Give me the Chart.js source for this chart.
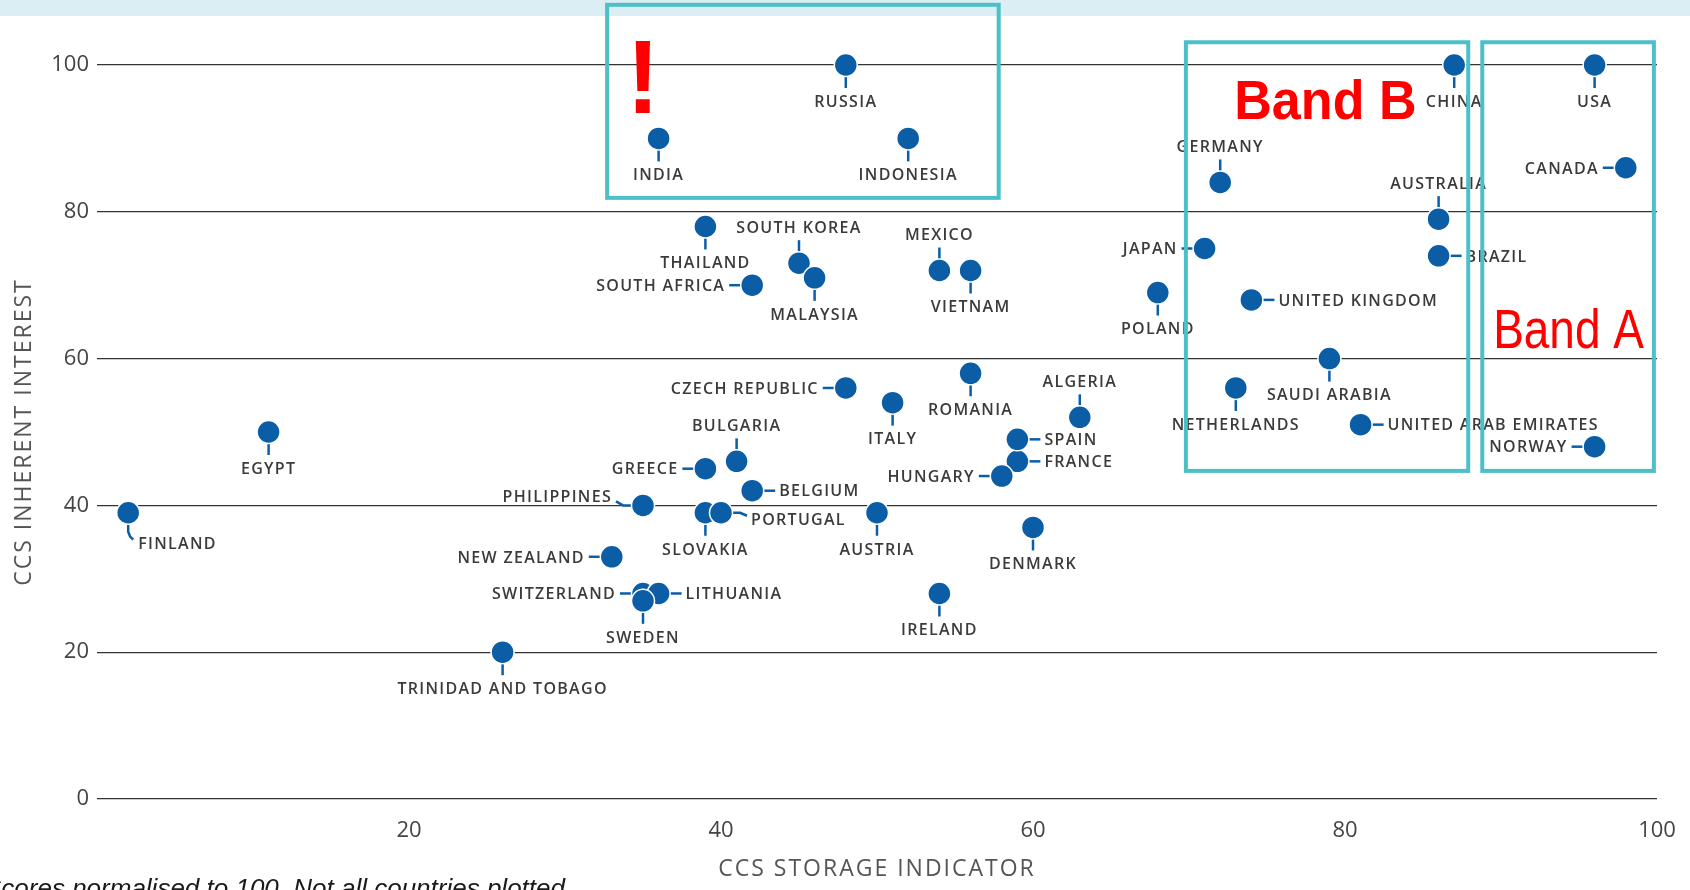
<!DOCTYPE html>
<html>
<head>
<meta charset="utf-8">
<title>CCS storage indicator vs inherent interest</title>
<script src="https://cdn.jsdelivr.net/npm/chart.js@4.4.1/dist/chart.umd.min.js"></script>
<style>
  html, body { margin: 0; padding: 0; background: #fff; }
  canvas { display: block; }
</style>
</head>
<body>
<canvas id="chart" width="1690" height="890"></canvas>
<script>
'use strict';

// data
const countries = [
  'USA', 'CANADA', 'CHINA', 'AUSTRALIA', 'BRAZIL', 'GERMANY', 'JAPAN', 'UNITED KINGDOM',
  'POLAND', 'SAUDI ARABIA', 'NETHERLANDS', 'UNITED ARAB EMIRATES', 'NORWAY', 'RUSSIA',
  'INDIA', 'INDONESIA', 'THAILAND', 'SOUTH KOREA', 'MALAYSIA', 'SOUTH AFRICA', 'MEXICO',
  'VIETNAM', 'CZECH REPUBLIC', 'ROMANIA', 'ITALY', 'ALGERIA', 'FRANCE', 'SPAIN', 'HUNGARY',
  'DENMARK', 'BULGARIA', 'GREECE', 'BELGIUM', 'PHILIPPINES', 'SLOVAKIA', 'PORTUGAL',
  'AUSTRIA', 'NEW ZEALAND', 'SWITZERLAND', 'LITHUANIA', 'SWEDEN', 'IRELAND',
  'TRINIDAD AND TOBAGO', 'EGYPT', 'FINLAND'
];
const storageScores = [
  96, 98, 87, 86, 86, 72, 71, 74, 68, 79, 73, 81, 96, 48, 36, 52, 39, 45, 46, 42, 54, 56, 48,
  56, 51, 63, 59, 59, 58, 60, 41, 39, 42, 35, 39, 40, 50, 33, 35, 36, 35, 54, 26, 11, 2
];
const interestScores = [
  100, 86, 100, 79, 74, 84, 75, 68, 69, 60, 56, 51, 48, 100, 90, 90, 78, 73, 71, 70, 72, 72, 56,
  58, 54, 52, 46, 49, 44, 37, 46, 45, 42, 40, 39, 39, 39, 33, 28, 28, 27, 28, 20, 50, 39
];
const xTicks = [20, 40, 60, 80, 100];
const yTicks = [0, 20, 40, 60, 80, 100];

const xTitle = 'CCS STORAGE INDICATOR';
const yTitle = 'CCS INHERENT INTEREST';
const footNote = 'Scores normalised to 100. Not all countries plotted.';

// where each label sits relative to its dot
const labelSide = {
  'USA': 'below', 'CHINA': 'below', 'POLAND': 'below', 'SAUDI ARABIA': 'below',
  'NETHERLANDS': 'below', 'RUSSIA': 'below', 'INDIA': 'below', 'INDONESIA': 'below',
  'THAILAND': 'below', 'MALAYSIA': 'below', 'VIETNAM': 'below', 'ROMANIA': 'below',
  'ITALY': 'below', 'DENMARK': 'below', 'SLOVAKIA': 'below', 'AUSTRIA': 'below',
  'SWEDEN': 'below', 'IRELAND': 'below', 'TRINIDAD AND TOBAGO': 'below', 'EGYPT': 'below',
  'AUSTRALIA': 'above', 'GERMANY': 'above', 'SOUTH KOREA': 'above', 'MEXICO': 'above',
  'ALGERIA': 'above', 'BULGARIA': 'above',
  'CANADA': 'left', 'JAPAN': 'left', 'NORWAY': 'left', 'SOUTH AFRICA': 'left',
  'CZECH REPUBLIC': 'left', 'HUNGARY': 'left', 'GREECE': 'left', 'NEW ZEALAND': 'left',
  'SWITZERLAND': 'left',
  'BRAZIL': 'right', 'UNITED KINGDOM': 'right', 'UNITED ARAB EMIRATES': 'right',
  'SPAIN': 'right', 'FRANCE': 'right', 'BELGIUM': 'right', 'LITHUANIA': 'right',
  'PHILIPPINES': 'slantLeft', 'PORTUGAL': 'slantRight', 'FINLAND': 'hook'
};

const leaderShapes = {
  below: { path: [[0, 0], [0, 23]], anchor: [0, 36], align: 'center' },
  above: { path: [[0, 0], [0, -23]], anchor: [0, -36], align: 'center' },
  left: { path: [[0, 0], [-23, 0]], anchor: [-27, 0], align: 'right' },
  right: { path: [[0, 0], [23, 0]], anchor: [27, 0], align: 'left' },
  slantLeft: { path: [[0, 0], [-20, 0], [-27, -4]], anchor: [-31, -9], align: 'right' },
  slantRight: { path: [[0, 0], [19, 0], [26, 3]], anchor: [30, 6], align: 'left' },
  hook: { path: [[0, 0], [0, 19], [2, 24], [5, 27]], anchor: [10, 30], align: 'left' }
};

// highlight boxes and red notes, in axis units
const highlightBoxes = [
  { xMin: 32.7, xMax: 57.8, yMin: 81.9, yMax: 108.2 },
  { xMin: 69.8, xMax: 87.9, yMin: 44.7, yMax: 103.1 },
  { xMin: 88.8, xMax: 99.8, yMin: 44.7, yMax: 103.1 }
];
const callouts = [
  { text: '!', x: 35.0, y: 93.5, font: 'bold 104px "Liberation Sans"', align: 'center', squeeze: 0.95 },
  { text: 'Band B', x: 72.9, y: 92.6, font: 'bold 56px "Liberation Sans"', align: 'left', squeeze: 0.93 },
  { text: 'Band A', x: 89.5, y: 61.4, font: '56px "Liberation Sans"', align: 'left', squeeze: 0.82 }
];

const BLUE = '#0b5da6';
const TEAL = '#4dbfc9';
const LABEL_SIZE = 16;

const backdrop = {
  id: 'backdrop',
  beforeDraw(chart) {
    const ctx = chart.ctx;
    ctx.save();
    ctx.fillStyle = '#ffffff';
    ctx.fillRect(0, 0, chart.width, chart.height);
    ctx.fillStyle = '#daeef3';
    ctx.fillRect(0, 0, chart.width, 16);
    ctx.restore();
  }
};

const countryLabels = {
  id: 'countryLabels',
  beforeDatasetsDraw(chart) {
    const ctx = chart.ctx;
    const points = chart.getDatasetMeta(0).data;
    ctx.save();
    ctx.strokeStyle = BLUE;
    ctx.lineWidth = 2.5;
    ctx.lineJoin = 'round';
    points.forEach((pt, i) => {
      const shape = leaderShapes[labelSide[countries[i]]];
      ctx.beginPath();
      shape.path.forEach(([dx, dy], k) => {
        if (k === 0) ctx.moveTo(pt.x + dx, pt.y + dy);
        else ctx.lineTo(pt.x + dx, pt.y + dy);
      });
      ctx.stroke();
    });
    ctx.restore();
  },
  afterDatasetsDraw(chart) {
    const ctx = chart.ctx;
    const points = chart.getDatasetMeta(0).data;
    ctx.save();
    ctx.font = '600 ' + LABEL_SIZE + 'px "Open Sans"';
    ctx.letterSpacing = '1.3px';
    ctx.fillStyle = '#3b3b3b';
    ctx.textBaseline = 'alphabetic';
    points.forEach((pt, i) => {
      const shape = leaderShapes[labelSide[countries[i]]];
      let x = pt.x + shape.anchor[0];
      const y = pt.y + shape.anchor[1] + LABEL_SIZE * 0.36;
      const w = ctx.measureText(countries[i]).width;
      if (shape.align === 'center') x -= w / 2;
      if (shape.align === 'right') x -= w;
      ctx.textAlign = 'left';
      ctx.fillText(countries[i], x, y);
    });
    ctx.restore();
  }
};

const extras = {
  id: 'extras',
  afterDraw(chart) {
    const ctx = chart.ctx;
    const { x: xs, y: ys } = chart.scales;
    const area = chart.chartArea;
    ctx.save();

    // axis titles
    ctx.fillStyle = '#555555';
    ctx.font = '400 23px "Open Sans"';
    ctx.letterSpacing = '2px';
    ctx.textAlign = 'center';
    ctx.textBaseline = 'middle';
    ctx.fillText(xTitle, (area.left + area.right) / 2, 869);
    ctx.save();
    ctx.translate(24, (area.top + area.bottom) / 2);
    ctx.rotate(-Math.PI / 2);
    ctx.fillText(yTitle, 0, 0);
    ctx.restore();

    // foot note, cut by the page edge
    ctx.letterSpacing = '0px';
    ctx.fillStyle = '#1a1a1a';
    ctx.font = 'italic 26px "Liberation Sans"';
    ctx.textAlign = 'left';
    ctx.textBaseline = 'alphabetic';
    ctx.fillText(footNote, -16, 897);

    // boxes on top of everything
    ctx.strokeStyle = TEAL;
    ctx.lineWidth = 4;
    highlightBoxes.forEach(b => {
      const x0 = xs.getPixelForValue(b.xMin);
      const x1 = xs.getPixelForValue(b.xMax);
      const y0 = ys.getPixelForValue(b.yMax);
      const y1 = ys.getPixelForValue(b.yMin);
      ctx.strokeRect(x0, y0, x1 - x0, y1 - y0);
    });

    ctx.fillStyle = '#ff0000';
    callouts.forEach(c => {
      ctx.save();
      ctx.font = c.font;
      ctx.textAlign = c.align;
      ctx.translate(xs.getPixelForValue(c.x), ys.getPixelForValue(c.y));
      ctx.scale(c.squeeze, 1);
      ctx.fillText(c.text, 0, 0);
      ctx.restore();
    });
    ctx.restore();
  }
};

const points = countries.map((name, i) => ({ x: storageScores[i], y: interestScores[i] }));

new Chart(document.getElementById('chart'), {
  type: 'scatter',
  data: {
    datasets: [{
      label: 'Countries',
      data: points,
      backgroundColor: BLUE,
      borderColor: '#ffffff',
      borderWidth: 1.5,
      pointRadius: 11.5,
      pointHoverRadius: 11.5,
      clip: false
    }]
  },
  options: {
    responsive: false,
    animation: false,
    events: [],
    layout: { padding: { top: 65, right: 33, bottom: 0, left: 0 } },
    plugins: {
      legend: { display: false },
      tooltip: { enabled: false }
    },
    scales: {
      x: {
        type: 'linear',
        min: 0,
        max: 100,
        afterFit: (scale) => {
          scale.height = 91;
          scale.paddingLeft = 0;
          scale.paddingRight = 0;
        },
        afterBuildTicks: (scale) => { scale.ticks = xTicks.map(v => ({ value: v })); },
        grid: { display: false, drawTicks: false },
        border: { display: false },
        ticks: { padding: 19, color: '#444444', font: { family: '"Open Sans"', size: 22 } }
      },
      y: {
        type: 'linear',
        min: 0,
        max: 100,
        afterFit: (scale) => { scale.width = 97; },
        afterBuildTicks: (scale) => { scale.ticks = yTicks.map(v => ({ value: v })); },
        grid: { color: '#333333', lineWidth: 1.3, drawTicks: false },
        border: { display: false },
        ticks: { padding: 8, color: '#444444', font: { family: '"Open Sans"', size: 22 } }
      }
    }
  },
  plugins: [backdrop, countryLabels, extras]
});
</script>
</body>
</html>
